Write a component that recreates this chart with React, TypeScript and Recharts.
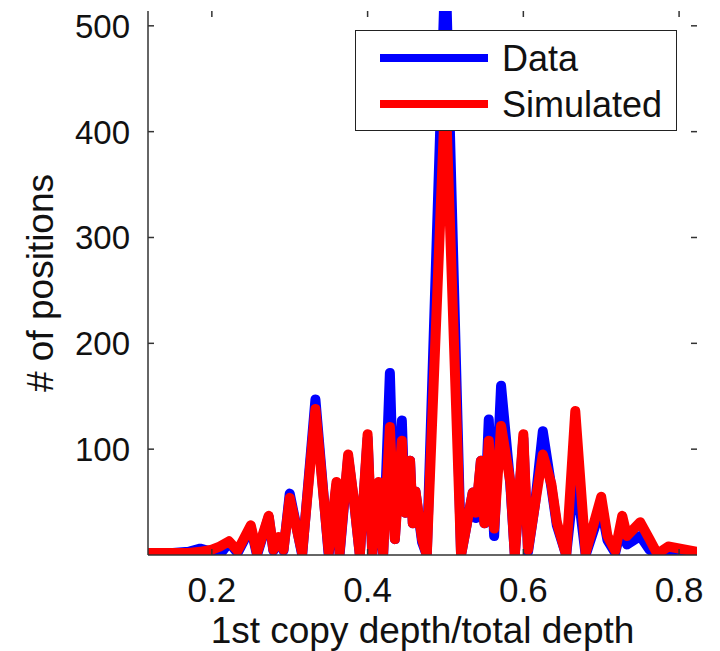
import { Line, LineChart, XAxis, YAxis } from "recharts";

// fraction of reads from the 1st copy
const ratios = [
  0.118, 0.15, 0.17, 0.185, 0.2, 0.21, 0.222, 0.233, 0.25, 0.258, 0.273, 0.279,
  0.286, 0.292, 0.3, 0.316, 0.333, 0.35, 0.36, 0.364, 0.375, 0.383, 0.39, 0.4,
  0.406, 0.414, 0.42, 0.4286, 0.435, 0.444, 0.448, 0.4545, 0.458, 0.4615, 0.47,
  0.476, 0.5, 0.52, 0.535, 0.539, 0.5455, 0.55, 0.5556, 0.5625, 0.5714, 0.5833,
  0.589, 0.6, 0.606, 0.615, 0.625, 0.636, 0.643, 0.655, 0.6667, 0.68, 0.7, 0.708,
  0.718, 0.727, 0.733, 0.75, 0.762, 0.772, 0.786, 0.823,
];

const observed = [
  2, 2, 3, 6, 3, 0, 12, 2, 26, 0, 36, 4,
  16, 4, 58, 0, 147, 0, 66, 0, 92, 48, 0, 110,
  0, 66, 0, 172, 15, 127, 40, 89, 30, 60, 12,
  0, 560, 0, 59, 35, 89, 30, 128, 18, 160, 66,
  0, 110, 3, 48, 117, 64, 28, 0, 80, 0, 45, 14,
  2, 30, 10, 18, 5, 0, 3, 1,
];

const simulated = [
  2, 2, 2, 3, 5, 8, 13, 4, 28, 2, 37, 5,
  17, 5, 54, 2, 138, 3, 69, 2, 95, 48, 0, 114,
  2, 69, 2, 121, 15, 108, 40, 89, 30, 60, 15,
  0, 440, 0, 59, 40, 89, 30, 108, 25, 122, 69,
  0, 114, 5, 48, 95, 67, 31, 0, 136, 2, 55, 18,
  4, 37, 18, 31, 15, 1, 8, 3,
];

const xTicks = [0.2, 0.4, 0.6, 0.8];
const yTicks = [100, 200, 300, 400, 500];

const rows = ratios.map((r, i) => ({ r, data: observed[i], sim: simulated[i] }));

const FONT = "'Liberation Sans', Arial, Helvetica, sans-serif";
const FRAME = "#333";
const PLOT_TOP = 11;
const PLOT_RIGHT = 697;

const XTick = (props: any) => {
  const { x, y, payload } = props;
  return (
    <g>
      <line x1={x} y1={y} x2={x} y2={y - 6} stroke={FRAME} strokeWidth={1.5} />
      <line x1={x} y1={PLOT_TOP} x2={x} y2={PLOT_TOP + 6} stroke={FRAME} strokeWidth={1.5} />
      <text x={x} y={y + 47} textAnchor="middle" fontSize={35} fontFamily={FONT} fill="#111">
        {payload.value}
      </text>
    </g>
  );
};

const YTick = (props: any) => {
  const { x, y, payload } = props;
  return (
    <g>
      <line x1={x} y1={y} x2={x + 6} y2={y} stroke={FRAME} strokeWidth={1.5} />
      <line x1={PLOT_RIGHT} y1={y} x2={PLOT_RIGHT - 6} y2={y} stroke={FRAME} strokeWidth={1.5} />
      <text x={x - 18} y={y + 12} textAnchor="end" fontSize={33} fontFamily={FONT} fill="#111">
        {payload.value}
      </text>
    </g>
  );
};

const legendItems = [
  { name: "Data", color: "#0000ff" },
  { name: "Simulated", color: "#ff0000" },
];

export default function App() {
  return (
    <div style={{ position: "relative", margin: "-8px 0 0 -8px", width: 720, height: 651, background: "#fff" }}>
      <LineChart width={720} height={651} data={rows} margin={{ top: PLOT_TOP, right: 720 - PLOT_RIGHT, bottom: 0, left: 0 }}>
        <XAxis
          dataKey="r"
          type="number"
          domain={[0.118, 0.823]}
          ticks={xTicks}
          allowDataOverflow
          height={96}
          tickSize={0}
          tickMargin={0}
          tickLine={false}
          axisLine={{ stroke: FRAME, strokeWidth: 1.5 }}
          tick={(p: any) => <XTick {...p} />}
          label={{
            content: (p: any) => {
              const vb = p.viewBox;
              return (
                <text x={vb.x + vb.width / 2} y={vb.y + 88} textAnchor="middle" fontSize={37} fontFamily={FONT} fill="#111">
                  1st copy depth/total depth
                </text>
              );
            },
          }}
        />
        <XAxis
          xAxisId="top"
          orientation="top"
          dataKey="r"
          type="number"
          domain={[0.118, 0.823]}
          allowDataOverflow
          height={0}
          tick={false}
          tickLine={false}
          axisLine={{ stroke: FRAME, strokeWidth: 1.5 }}
        />
        <YAxis
          type="number"
          domain={[0, 514]}
          ticks={yTicks}
          allowDataOverflow
          width={148}
          tickSize={0}
          tickMargin={0}
          tickLine={false}
          axisLine={{ stroke: FRAME, strokeWidth: 1.5 }}
          tick={(p: any) => <YTick {...p} />}
          label={{
            content: (p: any) => {
              const vb = p.viewBox;
              const cy = vb.y + vb.height / 2;
              return (
                <text x={53} y={cy} transform={`rotate(-90 53 ${cy})`} textAnchor="middle" fontSize={37} fontFamily={FONT} fill="#111">
                  # of positions
                </text>
              );
            },
          }}
        />
        <YAxis
          yAxisId="right"
          orientation="right"
          type="number"
          domain={[0, 514]}
          allowDataOverflow
          width={0}
          tick={false}
          tickLine={false}
          axisLine={{ stroke: FRAME, strokeWidth: 1.5 }}
        />
        <Line dataKey="data" stroke="#0000ff" strokeWidth={10} strokeLinejoin="round" strokeLinecap="round" dot={false} isAnimationActive={false} />
        <Line dataKey="sim" stroke="#ff0000" strokeWidth={10} strokeLinejoin="round" strokeLinecap="round" dot={false} isAnimationActive={false} />
      </LineChart>
      <div
        style={{
          position: "absolute",
          left: 355,
          top: 30,
          width: 322,
          height: 101,
          boxSizing: "border-box",
          border: "1.5px solid #222",
          background: "#fff",
        }}
      >
        <svg width={320} height={99}>
          {legendItems.map((it, i) => (
            <g key={it.name}>
              <line x1={24} x2={132} y1={27 + i * 46} y2={27 + i * 46} stroke={it.color} strokeWidth={8} />
              <text x={146} y={40 + i * 46} fontSize={36} fontFamily={FONT} fill="#111">
                {it.name}
              </text>
            </g>
          ))}
        </svg>
      </div>
    </div>
  );
}
